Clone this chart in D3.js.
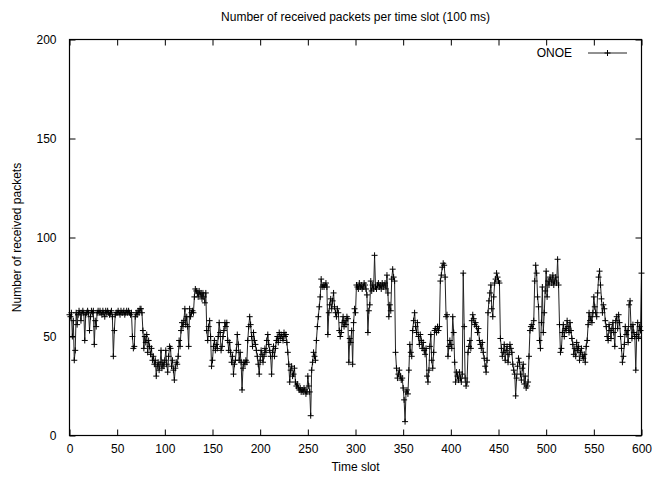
<!DOCTYPE html>
<html>
<head>
<meta charset="utf-8">
<script src="https://cdn.jsdelivr.net/npm/d3@7"></script>
<style>
  body { margin: 0; background: #fff; }
  svg text { font-family: "Liberation Sans", Arial, sans-serif; font-size: 12px; fill: #000; }
</style>
</head>
<body>
<div id="chart"></div>
<script>
// received packets per 100 ms slot, slots 0..600
var packets = [
  61, 60, 62, 50, 58, 38, 43, 62, 56, 61, 63, 62, 58, 62, 63, 62, 48, 61, 62, 63, 62, 53, 60, 63, 62,
  63, 46, 58, 55, 62, 63, 62, 63, 62, 61, 63, 62, 60, 63, 62, 63, 62, 61, 62, 63, 60, 40, 53, 61, 62,
  62, 63, 62, 61, 63, 62, 62, 63, 61, 62, 63, 62, 63, 62, 61, 62, 50, 44, 45, 60, 62, 61, 63, 62, 64,
  64, 62, 53, 44, 50, 47, 51, 42, 48, 45, 41, 44, 38, 40, 36, 38, 30, 35, 37, 33, 36, 43, 34, 37, 35,
  38, 43, 36, 32, 40, 45, 44, 35, 38, 33, 28, 34, 37, 36, 40, 48, 45, 53, 57, 55, 58, 64, 56, 60, 55,
  45, 64, 60, 62, 63, 62, 70, 74, 73, 72, 70, 73, 71, 72, 69, 72, 70, 67, 72, 53, 48, 55, 58, 50, 35,
  38, 45, 48, 43, 46, 44, 50, 57, 52, 43, 45, 50, 53, 57, 55, 57, 48, 43, 47, 42, 37, 40, 31, 36, 38,
  43, 51, 46, 38, 42, 37, 23, 34, 37, 36, 38, 37, 48, 55, 60, 56, 50, 45, 52, 48, 46, 43, 40, 36, 31,
  38, 43, 41, 37, 40, 44, 42, 48, 51, 46, 43, 40, 31, 42, 45, 40, 44, 48, 50, 47, 52, 49, 51, 50, 48,
  52, 50, 51, 47, 42, 36, 27, 33, 35, 30, 31, 34, 27, 25, 26, 24, 23, 24, 22, 23, 22, 24, 23, 21, 22,
  30, 25, 22, 10, 33, 37, 42, 40, 38, 48, 55, 60, 65, 70, 79, 75, 76, 75, 76, 77, 75, 51, 62, 66, 69,
  64, 68, 72, 65, 62, 60, 64, 62, 53, 50, 52, 57, 60, 55, 58, 56, 60, 59, 37, 49, 47, 53, 36, 57, 64,
  62, 76, 75, 74, 77, 75, 76, 74, 75, 77, 76, 74, 71, 52, 63, 66, 78, 73, 76, 74, 91, 75, 74, 76, 77,
  75, 76, 74, 77, 75, 76, 77, 74, 81, 72, 60, 66, 63, 79, 84, 80, 78, 42, 34, 29, 31, 33, 30, 28, 29,
  24, 18, 7, 22, 23, 21, 33, 46, 42, 40, 53, 58, 62, 55, 52, 57, 50, 46, 51, 48, 44, 47, 43, 41, 44,
  30, 27, 33, 45, 51, 38, 34, 42, 53, 54, 52, 55, 53, 55, 78, 81, 85, 87, 86, 80, 60, 61, 40, 45, 48,
  46, 44, 60, 52, 37, 27, 32, 30, 28, 32, 29, 27, 31, 82, 55, 29, 25, 27, 42, 45, 48, 44, 58, 61, 59,
  56, 57, 55, 52, 54, 48, 46, 44, 47, 42, 39, 35, 32, 38, 62, 68, 72, 76, 64, 60, 70, 77, 79, 82, 80,
  78, 77, 49, 44, 40, 42, 46, 38, 43, 45, 37, 41, 46, 44, 42, 36, 33, 31, 20, 29, 35, 39, 37, 31, 28,
  34, 36, 26, 30, 24, 25, 27, 40, 53, 55, 56, 54, 58, 78, 86, 82, 70, 65, 48, 44, 57, 75, 52, 62, 73,
  83, 70, 78, 76, 80, 79, 77, 81, 76, 78, 80, 77, 89, 76, 56, 42, 44, 52, 56, 50, 54, 53, 58, 55, 52,
  57, 53, 49, 46, 41, 44, 40, 47, 43, 45, 38, 42, 44, 40, 39, 41, 37, 45, 48, 56, 62, 58, 60, 57, 62,
  70, 65, 62, 60, 72, 80, 83, 76, 69, 62, 66, 64, 58, 55, 50, 48, 56, 53, 49, 54, 57, 52, 45, 58, 60,
  54, 61, 57, 50, 44, 37, 40, 46, 55, 51, 53, 47, 66, 68, 55, 49, 56, 52, 50, 33, 51, 57, 49, 55, 53,
  82
];
var xTicks = [0, 50, 100, 150, 200, 250, 300, 350, 400, 450, 500, 550, 600];
var yTicks = [0, 50, 100, 150, 200];
var seriesName = 'ONOE';
var titleText = 'Number of received packets per time slot (100 ms)';
var xLabel = 'Time slot';
var yLabel = 'Number of received packets';

var W = 657, H = 477;
var m = {left: 69.5, right: 15.5, top: 39.5, bottom: 41.5};
var tickLen = 6;

var svg = d3.select('#chart').append('svg')
  .attr('width', W).attr('height', H);

var x = d3.scaleLinear().domain([0, 600]).range([m.left, W - m.right]);
var y = d3.scaleLinear().domain([0, 200]).range([H - m.bottom, m.top]);

// axes, ticks inward, mirrored on top and right
var axB = d3.axisBottom(x).tickValues(xTicks).tickSizeInner(-tickLen).tickSizeOuter(0).tickPadding(9);
var axT = d3.axisTop(x).tickValues(xTicks).tickSizeInner(-tickLen).tickSizeOuter(0).tickFormat('');
var axL = d3.axisLeft(y).tickValues(yTicks).tickSizeInner(-tickLen).tickSizeOuter(0).tickPadding(13);
var axR = d3.axisRight(y).tickValues(yTicks).tickSizeInner(-tickLen).tickSizeOuter(0).tickFormat('');

function styleAxis(g) {
  g.select('.domain').remove();
  g.selectAll('line').attr('stroke', '#000');
  g.selectAll('text').attr('font-size', null).attr('font-family', null);
}
svg.append('g').attr('transform', 'translate(0,' + (H - m.bottom) + ')').call(axB).call(styleAxis);
svg.append('g').attr('transform', 'translate(0,' + m.top + ')').call(axT).call(styleAxis);
svg.append('g').attr('transform', 'translate(' + m.left + ',0)').call(axL).call(styleAxis);
svg.append('g').attr('transform', 'translate(' + (W - m.right) + ',0)').call(axR).call(styleAxis);

// the series
var line = d3.line()
  .x(function(d, i) { return x(i); })
  .y(function(d) { return y(d); });

svg.append('path')
  .datum(packets)
  .attr('fill', 'none')
  .attr('stroke', '#222')
  .attr('stroke-width', 1)
  .attr('d', line);

var ps = 3;
function plus(px, py) {
  return 'M' + (px - ps) + ',' + py + 'H' + (px + ps) + 'M' + px + ',' + (py - ps) + 'V' + (py + ps);
}
svg.append('path')
  .attr('fill', 'none')
  .attr('stroke', '#000')
  .attr('stroke-width', 1)
  .attr('d', packets.map(function(d, i) { return plus(x(i), y(d)); }).join(''));

// border
svg.append('rect')
  .attr('x', m.left).attr('y', m.top)
  .attr('width', W - m.left - m.right).attr('height', H - m.top - m.bottom)
  .attr('fill', 'none').attr('stroke', '#000').attr('stroke-width', 1.2);

// legend
var ly = 53;
svg.append('text').attr('x', 572).attr('y', ly + 4).attr('text-anchor', 'end').text(seriesName);
svg.append('line').attr('x1', 588).attr('x2', 627).attr('y1', ly).attr('y2', ly).attr('stroke', '#222');
svg.append('path').attr('d', plus(607.5, ly)).attr('stroke', '#000').attr('fill', 'none');

// titles
svg.append('text').attr('x', (m.left + W - m.right) / 2).attr('y', 21)
  .attr('text-anchor', 'middle').text(titleText);
svg.append('text').attr('x', (m.left + W - m.right) / 2).attr('y', 471)
  .attr('text-anchor', 'middle').text(xLabel);
svg.append('text')
  .attr('transform', 'translate(21,' + ((m.top + H - m.bottom) / 2) + ') rotate(-90)')
  .attr('text-anchor', 'middle').text(yLabel);
</script>
</body>
</html>
